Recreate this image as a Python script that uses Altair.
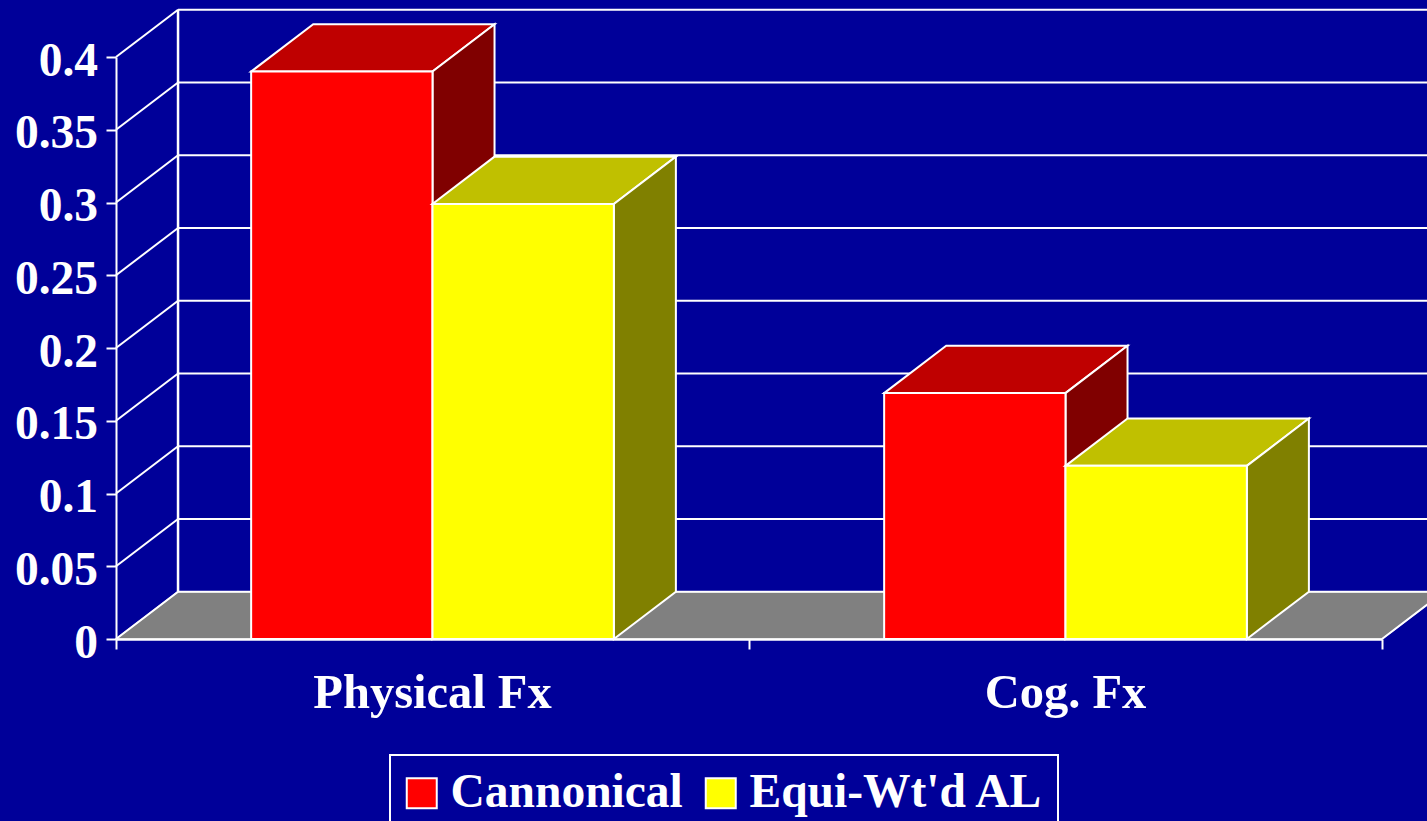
import altair as alt
import pandas as pd

# Chart values
categories = ["Physical Fx", "Cog. Fx"]
series_names = ["Cannonical", "Equi-Wt'd AL"]
cannonical = [0.390, 0.169]
equi_wtd = [0.299, 0.119]
y_ticks = [0, 0.05, 0.1, 0.15, 0.2, 0.25, 0.3, 0.35, 0.4]
x_ticks = [0, 1, 2]

# Oblique projection and bar layout, in data units
DEPTH_X = 0.098
DEPTH_Y = 0.0325
BAR_W = 0.2865
X_MAX = 2
Y_MAX = 0.4

BG = "#000099"
FRONT = {"Cannonical": "#FF0000", "Equi-Wt'd AL": "#FFFF00"}
SIDE = {"Cannonical": "#800000", "Equi-Wt'd AL": "#808000"}
TOP = {"Cannonical": "#BF0000", "Equi-Wt'd AL": "#C0C000"}
FONT = "Liberation Serif"

x_scale = alt.Scale(domain=[0, X_MAX], nice=False, zero=False)
y_scale = alt.Scale(domain=[0, Y_MAX], nice=False)
x_axis = alt.Axis(
    values=x_ticks, labels=False, title=None, grid=False, orient="bottom", zindex=1,
    domainColor="white", domainWidth=2.5, tickColor="white", tickWidth=2, tickSize=10)
y_axis = alt.Axis(
    values=y_ticks, title=None, grid=False, orient="left", format="~g", zindex=1,
    domainColor="white", domainWidth=2, tickColor="white", tickWidth=2, tickSize=10,
    labelFont=FONT, labelFontWeight="bold", labelFontSize=47.5, labelColor="white",
    labelPadding=8.5, labelOffset=4, labelOverlap=False, labelFlush=False)
X = lambda f: alt.X(f, type="quantitative", scale=x_scale, axis=x_axis)
Y = lambda f: alt.Y(f, type="quantitative", scale=y_scale, axis=y_axis)

# Floor plane
floor = alt.Chart(pd.DataFrame({
    "y": [0, DEPTH_Y], "x0": [0, DEPTH_X], "x1": [X_MAX, X_MAX + DEPTH_X],
})).mark_area(orient="horizontal", fill="#808080", stroke="#C8C8C8", strokeWidth=1.5).encode(
    y=Y("y"), x=X("x0"), x2="x1")

# Back wall grid, its slanted side-wall links and the vertical wall edge
grid_df = pd.DataFrame({"v": y_ticks})
grid_df["v_back"] = grid_df["v"] + DEPTH_Y
grid_df["x_back"] = DEPTH_X
grid_df["x_zero"] = 0.0
grid_df["x_end"] = X_MAX + DEPTH_X
back_grid = alt.Chart(grid_df).mark_rule(color="white", strokeWidth=2).encode(
    x=X("x_back"), x2="x_end", y=Y("v_back"))
side_grid = alt.Chart(grid_df).mark_rule(color="white", strokeWidth=2).encode(
    x=X("x_zero"), x2="x_back", y=Y("v"), y2="v_back")
wall_edge = alt.Chart(pd.DataFrame({
    "x": [DEPTH_X], "y0": [DEPTH_Y], "y1": [Y_MAX + DEPTH_Y],
})).mark_rule(color="white", strokeWidth=2.5).encode(x=X("x"), y=Y("y0"), y2="y1")
floor_right = alt.Chart(pd.DataFrame({
    "x0": [X_MAX], "x1": [X_MAX + DEPTH_X], "y0": [0], "y1": [DEPTH_Y],
})).mark_rule(color="white", strokeWidth=2).encode(x=X("x0"), x2="x1", y=Y("y0"), y2="y1")


def bar_layers(center, name, value):
    """Top, side and front faces of one bar, drawn back to front."""
    if name == series_names[0]:
        left, right = center - BAR_W, center
    else:
        left, right = center, center + BAR_W
    top = alt.Chart(pd.DataFrame({
        "y": [value, value + DEPTH_Y],
        "x0": [left, left + DEPTH_X],
        "x1": [right, right + DEPTH_X],
    })).mark_area(orient="horizontal", fill=TOP[name], stroke="white", strokeWidth=2).encode(
        y=Y("y"), x=X("x0"), x2="x1")
    side = alt.Chart(pd.DataFrame({
        "x": [right, right + DEPTH_X],
        "y0": [0, DEPTH_Y],
        "y1": [value, value + DEPTH_Y],
    })).mark_area(orient="vertical", fill=SIDE[name], stroke="white", strokeWidth=2).encode(
        x=X("x"), y=Y("y0"), y2="y1")
    front = alt.Chart(pd.DataFrame({
        "x0": [left], "x1": [right], "y0": [0], "y1": [value], "series": [name],
    })).mark_rect(stroke="white", strokeWidth=2).encode(
        x=X("x0"), x2="x1", y=Y("y0"), y2="y1",
        color=alt.Color("series:N",
                        scale=alt.Scale(domain=series_names, range=[FRONT[n] for n in series_names]),
                        legend=alt.Legend(
                            title=None, orient="none", legendX=274, legendY=698, direction="horizontal",
                            columns=2, columnPadding=18, padding=14,
                            strokeColor="white", fillColor=BG,
                            symbolType="square", symbolSize=900, symbolStrokeColor="white",
                            symbolStrokeWidth=2, symbolFillColor=None, symbolOffset=-6,
                            labelFont=FONT, labelFontWeight="bold", labelFontSize=47.5,
                            labelColor="white", labelOffset=5, labelLimit=400,
                        )),
    )
    return [top, side, front]


bars = []
for i, cat in enumerate(categories):
    center = i + 0.5
    bars += bar_layers(center, series_names[0], cannonical[i])
    bars += bar_layers(center, series_names[1], equi_wtd[i])

# Category names below the floor
cat_labels = alt.Chart(pd.DataFrame({
    "x": [i + 0.5 for i in range(len(categories))], "label": categories,
})).mark_text(font=FONT, fontWeight="bold", fontSize=48.5, color="white", baseline="alphabetic").encode(
    x=X("x"), y=alt.value(651), text="label:N")

chart = alt.layer(
    floor, back_grid, side_grid, wall_edge, floor_right, *bars, cat_labels
).resolve_scale(x="shared", y="shared").properties(
    width=1266, height=582, background=BG,
    padding={"left": 116, "top": 57, "right": 45, "bottom": 182},
    autosize=alt.AutoSizeParams(type="none"),
).configure_view(stroke=None).configure_legend(strokeWidth=2)

chart.save("out.html", embed_options={"renderer": "svg", "actions": False})
